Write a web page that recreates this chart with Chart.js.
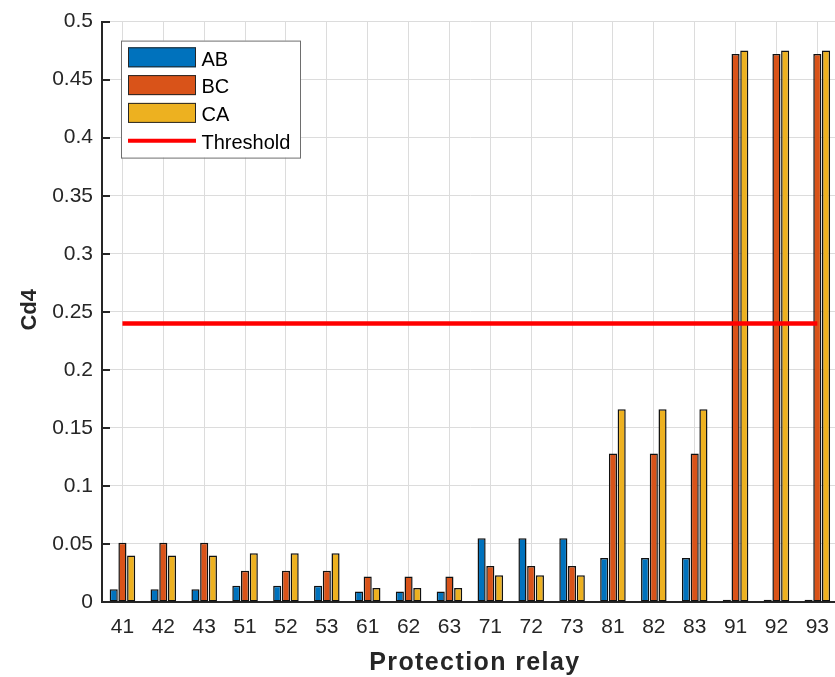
<!DOCTYPE html>
<html>
<head>
<meta charset="utf-8">
<script src="https://cdn.jsdelivr.net/npm/chart.js@4/dist/chart.umd.min.js"></script>
<style>
  html, body { margin: 0; padding: 0; background: #fff; overflow: hidden; width: 835px; height: 677px; }
  #wrap { position: relative; width: 842px; height: 677px; }
</style>
</head>
<body>
<div id="wrap"><canvas id="c" width="842" height="677"></canvas></div>
<script>
// Relay identifiers along the x axis
const relays = ['41', '42', '43', '51', '52', '53', '61', '62', '63',
                '71', '72', '73', '81', '82', '83', '91', '92', '93'];

// Cd4 index per phase pair
const cd4AB = [0.011, 0.011, 0.011, 0.014, 0.014, 0.014, 0.009, 0.009, 0.009,
               0.055, 0.055, 0.055, 0.038, 0.038, 0.038, 0.002, 0.002, 0.002];
const cd4BC = [0.051, 0.051, 0.051, 0.027, 0.027, 0.027, 0.022, 0.022, 0.022,
               0.031, 0.031, 0.031, 0.128, 0.128, 0.128, 0.472, 0.472, 0.472];
const cd4CA = [0.040, 0.040, 0.040, 0.042, 0.042, 0.042, 0.012, 0.012, 0.012,
               0.023, 0.023, 0.023, 0.166, 0.166, 0.166, 0.475, 0.475, 0.475];

// Trip threshold
const threshold = [0.24, 0.24, 0.24, 0.24, 0.24, 0.24, 0.24, 0.24, 0.24,
                   0.24, 0.24, 0.24, 0.24, 0.24, 0.24, 0.24, 0.24, 0.24];

const yTickLabels = ['0', '0.05', '0.1', '0.15', '0.2', '0.25', '0.3', '0.35', '0.4', '0.45', '0.5'];

const FONT = '"Liberation Sans", Arial, Helvetica, sans-serif';
const INK = '#262626';
const COLORS = { AB: '#0072BD', BC: '#D95319', CA: '#EDB120', thr: '#FF0000' };

// Axis titles, inward y ticks and the boxed legend
const decor = {
  id: 'decor',
  afterDraw(chart) {
    const { ctx, chartArea: ca, scales } = chart;
    const y = scales.y;

    // inward tick marks on the y axis
    ctx.save();
    ctx.strokeStyle = INK;
    ctx.lineWidth = 2;
    y.ticks.forEach(t => {
      const py = Math.round(y.getPixelForValue(t.value));
      ctx.beginPath();
      ctx.moveTo(ca.left, py);
      ctx.lineTo(ca.left + 8, py);
      ctx.stroke();
    });
    ctx.restore();

    // x axis title
    ctx.save();
    ctx.font = 'bold 25px ' + FONT;
    ctx.letterSpacing = '1.4px';
    ctx.fillStyle = INK;
    ctx.textAlign = 'center';
    ctx.textBaseline = 'alphabetic';
    ctx.fillText('Protection relay', (ca.left + ca.right) / 2 + 5, 670);
    ctx.restore();

    // y axis title
    ctx.save();
    ctx.font = 'bold 22px ' + FONT;
    ctx.fillStyle = INK;
    ctx.translate(36, (ca.top + ca.bottom) / 2 - 2);
    ctx.rotate(-Math.PI / 2);
    ctx.textAlign = 'center';
    ctx.textBaseline = 'alphabetic';
    ctx.fillText('Cd4', 0, 0);
    ctx.restore();

    // legend
    const bx = ca.left + 19, by = ca.top + 19, bw = 179, bh = 117;
    ctx.save();
    ctx.fillStyle = '#ffffff';
    ctx.fillRect(bx, by, bw, bh);
    ctx.strokeStyle = '#6e6e6e';
    ctx.lineWidth = 1;
    ctx.strokeRect(bx + 0.5, by + 0.5, bw, bh);
    const items = [
      { label: 'AB', color: COLORS.AB, kind: 'bar' },
      { label: 'BC', color: COLORS.BC, kind: 'bar' },
      { label: 'CA', color: COLORS.CA, kind: 'bar' },
      { label: 'Threshold', color: COLORS.thr, kind: 'line' }
    ];
    ctx.font = '20px ' + FONT;
    ctx.textAlign = 'left';
    ctx.textBaseline = 'alphabetic';
    items.forEach((it, i) => {
      const cy = by + 16.7 + i * 27.8;
      const px = bx + 7, pw = 68;
      if (it.kind === 'bar') {
        ctx.fillStyle = it.color;
        ctx.fillRect(px, cy - 10, pw, 20);
        ctx.strokeStyle = INK;
        ctx.lineWidth = 1;
        ctx.strokeRect(px + 0.5, cy - 10 + 0.5, pw - 1, 19);
      } else {
        ctx.strokeStyle = it.color;
        ctx.lineWidth = 4;
        ctx.beginPath();
        ctx.moveTo(px, cy);
        ctx.lineTo(px + pw, cy);
        ctx.stroke();
      }
      ctx.fillStyle = '#000';
      ctx.fillText(it.label, bx + 80.5, cy + 8.3);
    });
    ctx.restore();
  }
};

const barStyle = { borderColor: '#111111', borderWidth: 1.5, borderSkipped: false,
                   categoryPercentage: 0.64, barPercentage: 0.93, order: 1 };

new Chart(document.getElementById('c'), {
  type: 'bar',
  data: {
    labels: relays,
    datasets: [
      { type: 'line', label: 'Threshold', data: threshold, borderColor: COLORS.thr,
        borderWidth: 4.5, pointRadius: 0, fill: false, order: 0 },
      Object.assign({ label: 'AB', data: cd4AB, backgroundColor: COLORS.AB }, barStyle),
      Object.assign({ label: 'BC', data: cd4BC, backgroundColor: COLORS.BC }, barStyle),
      Object.assign({ label: 'CA', data: cd4CA, backgroundColor: COLORS.CA }, barStyle)
    ]
  },
  options: {
    responsive: false,
    devicePixelRatio: 1,
    animation: false,
    layout: { padding: { top: 19, left: 0, right: 0, bottom: 0 } },
    plugins: { legend: { display: false }, tooltip: { enabled: false } },
    scales: {
      x: {
        type: 'category',
        offset: true,
        grid: { offset: false, color: '#dcdcdc', lineWidth: 1, drawTicks: false },
        border: { display: true, color: INK, width: 2 },
        ticks: { font: { family: FONT, size: 21 }, color: INK, padding: 13,
                 maxRotation: 0, autoSkip: false },
        afterFit(s) { s.height = 75; }
      },
      y: {
        min: 0, max: 0.5,
        grid: { color: '#dcdcdc', lineWidth: 1, drawTicks: false },
        border: { display: true, color: INK, width: 2 },
        ticks: { stepSize: 0.05, font: { family: FONT, size: 21 }, color: INK, padding: 9,
                 callback: (v, i) => yTickLabels[i] },
        afterFit(s) { s.width = 102; }
      }
    }
  },
  plugins: [decor]
});
</script>
</body>
</html>
